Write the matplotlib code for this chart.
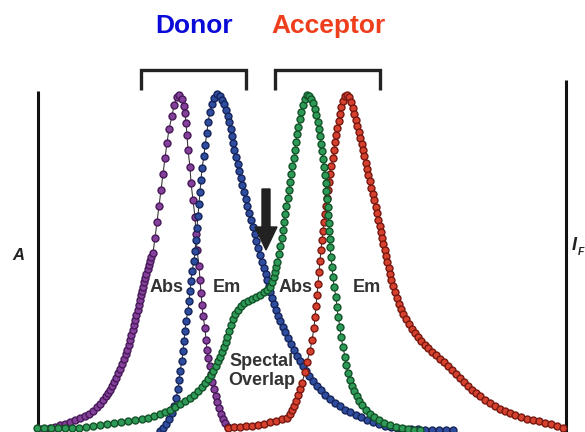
import numpy as np
import matplotlib
matplotlib.use("Agg")
import matplotlib.pyplot as plt

plt.rcParams['font.family'] = ['Liberation Sans', 'DejaVu Sans']

# curves: x position, y position (image rows, top = 0)
donor_abs_x = [40, 45, 50, 55, 60, 65, 70, 75, 80, 85, 89, 93, 97, 100, 103, 106, 108, 110, 112, 114,
               116, 118, 120, 122, 124, 126, 127, 129, 130, 131, 133, 134, 135, 136, 138, 139, 140, 141,
               142, 143, 144, 145, 146, 148, 149, 150, 151, 153, 155, 157, 159, 161, 163, 165, 167, 169,
               172, 174, 177, 179, 182, 184, 185, 186, 187, 188, 190, 191, 193, 195, 196, 197, 199, 200,
               201, 202, 203, 205, 206, 207, 208, 210, 211, 212, 214, 216, 217, 219, 221, 223, 225, 228]
donor_abs_y = [429, 429, 428, 427, 425, 424, 422, 420, 418, 416, 414, 411, 407, 404, 400, 396, 393, 390, 386, 382,
               378, 373, 369, 364, 359, 354, 350, 345, 340, 335, 330, 325, 320, 315, 310, 305, 300, 295,
               291, 287, 282, 278, 274, 269, 265, 261, 257, 253, 238, 222, 206, 190, 174, 158, 143, 129,
               116, 105, 97, 95, 99, 106, 113, 123, 135, 150, 167, 183, 200, 217, 234, 250, 266, 280,
               293, 305, 316, 328, 340, 350, 358, 366, 374, 382, 389, 396, 402, 408, 414, 419, 423, 427]

donor_em_x = [160, 163, 166, 169, 172, 174, 176, 178, 179, 180, 182, 183, 184, 185, 186, 188, 189, 190, 191, 192,
              194, 195, 196, 197, 198, 199, 200, 201, 202, 204, 205, 207, 208, 210, 212, 214, 217, 220, 222,
              224, 226, 228, 229, 231, 232, 233, 234, 236, 238, 239, 241, 242, 244, 246, 247, 249, 251, 253,
              255, 256, 258, 260, 262, 264, 266, 267, 269, 270, 272, 274, 276, 278, 280, 283, 285, 288, 291,
              294, 297, 300, 303, 306, 309, 313, 317, 321, 325, 330, 335, 340, 345, 350, 356, 361, 367, 373,
              379, 385, 391, 397, 404, 411, 418, 425, 432, 439, 446, 453]
donor_em_y = [431, 428, 424, 419, 413, 406, 398, 389, 380, 371, 361, 351, 341, 331, 321, 311, 301, 291, 281, 271,
              261, 251, 240, 228, 216, 204, 192, 180, 168, 156, 145, 133, 122, 112, 104, 98, 94, 96, 100,
              104, 110, 116, 122, 129, 136, 143, 150, 157, 164, 171, 178, 185, 192, 199, 206, 213, 220, 227,
              234, 241, 248, 255, 262, 268, 274, 280, 286, 292, 298, 304, 310, 316, 321, 327, 332, 338, 344,
              350, 356, 361, 366, 371, 376, 381, 386, 390, 395, 399, 403, 406, 410, 412, 415, 417, 420, 422,
              424, 426, 427, 428, 429, 429, 429, 430, 430, 430, 430, 430]

acc_abs_x = [37, 44, 51, 58, 65, 72, 79, 86, 93, 100, 107, 114, 121, 128, 135, 142, 148, 154, 160, 165, 170,
             175, 180, 185, 190, 194, 198, 202, 205, 208, 211, 213, 216, 218, 220, 222, 224, 226, 227, 229,
             231, 233, 235, 238, 241, 244, 248, 252, 256, 260, 264, 267, 270, 272, 274, 275, 276, 277, 279,
             280, 282, 283, 284, 285, 286, 288, 289, 290, 291, 292, 294, 295, 296, 297, 298, 300, 301, 303,
             305, 307, 309, 311, 313, 315, 316, 318, 319, 320, 321, 322, 323, 324, 325, 326, 326, 327, 328,
             328, 329, 329, 330, 330, 331, 332, 333, 334, 336, 337, 338, 340, 341, 343, 345, 346, 348, 350,
             352, 354, 357, 359, 362, 366, 370, 374, 379, 384, 390, 396, 402, 408, 414, 420]
acc_abs_y = [428, 428, 428, 428, 428, 428, 428, 427, 426, 425, 424, 423, 422, 421, 420, 419, 418, 416, 414, 412, 410,
             407, 404, 401, 398, 395, 391, 387, 383, 379, 375, 371, 366, 361, 357, 352, 347, 342, 337, 331,
             325, 319, 314, 310, 306, 303, 301, 299, 297, 295, 292, 290, 287, 282, 277, 272, 267, 262, 254,
             246, 238, 230, 222, 214, 206, 198, 190, 182, 174, 166, 158, 150, 142, 134, 127, 119, 112, 105,
             99, 95, 96, 99, 103, 109, 115, 122, 129, 136, 144, 151, 159, 167, 175, 183, 191, 199, 207,
             215, 223, 231, 239, 247, 257, 267, 277, 287, 297, 307, 317, 327, 337, 347, 357, 365, 373, 380,
             386, 391, 396, 401, 405, 410, 414, 417, 420, 423, 425, 427, 428, 429, 430, 430]

acc_em_x = [228, 234, 240, 246, 252, 258, 264, 270, 276, 282, 287, 290, 292, 294, 296, 298, 300, 302, 305, 307,
            310, 312, 314, 315, 316, 317, 318, 319, 320, 321, 322, 323, 324, 325, 326, 327, 328, 329, 330,
            331, 333, 334, 335, 336, 337, 339, 340, 341, 343, 345, 347, 349, 351, 353, 354, 356, 357, 359,
            360, 362, 363, 364, 366, 367, 368, 370, 371, 373, 374, 376, 377, 378, 380, 381, 382, 383, 385,
            386, 387, 389, 390, 391, 393, 395, 397, 399, 401, 403, 406, 409, 412, 415, 418, 421, 425, 428,
            432, 436, 440, 444, 448, 452, 456, 460, 464, 468, 472, 476, 480, 485, 490, 495, 500, 505, 510,
            515, 521, 527, 533, 539, 545, 551, 557, 563]
acc_em_y = [428, 427, 427, 426, 426, 425, 424, 422, 421, 419, 418, 414, 410, 406, 401, 395, 389, 383, 372, 362,
            351, 340, 328, 317, 306, 295, 284, 272, 261, 250, 240, 231, 222, 214, 206, 198, 190, 182, 174,
            166, 158, 150, 142, 135, 128, 121, 114, 107, 101, 96, 95, 97, 102, 108, 114, 120, 126, 132,
            138, 144, 150, 156, 163, 169, 175, 181, 188, 194, 200, 207, 213, 220, 226, 232, 238, 244, 250,
            256, 262, 268, 274, 280, 286, 292, 298, 304, 309, 314, 319, 324, 329, 333, 337, 341, 345, 348,
            352, 355, 359, 362, 366, 370, 374, 378, 382, 386, 390, 393, 396, 400, 403, 406, 409, 411, 413,
            415, 417, 419, 420, 421, 423, 424, 426, 428]

fig = plt.figure(figsize=(5.85, 4.32), dpi=100)
ax = fig.add_axes([0, 0, 1, 1])
ax.set_xlim(0, 585)
ax.set_ylim(432, 0)
ax.axis('off')

curves = [
    (donor_abs_x, donor_abs_y, '#84409a', '#471958'),
    (donor_em_x, donor_em_y, '#2f4d9e', '#15245a'),
    (acc_em_x, acc_em_y, '#d5412e', '#761810'),
    (acc_abs_x, acc_abs_y, '#2d9a58', '#135227'),
]
for xs, ys, face, edge in curves:
    ax.plot(xs, ys, color='#3a3a3a', lw=0.8, zorder=2)
    ax.plot(xs, ys, ls='none', marker='o', ms=5.0, mfc=face, mec=edge, mew=1.0, zorder=3)

# axis bars
ax.plot([38, 38], [91, 432], color='#111111', lw=2.2, solid_capstyle='butt')
ax.plot([566, 566], [80, 432], color='#111111', lw=2.2, solid_capstyle='butt')

# brackets
ax.plot([141, 141, 246, 246], [90, 70, 70, 90], color='#222222', lw=2.4,
        solid_joinstyle='miter', solid_capstyle='butt')
ax.plot([275, 275, 380, 380], [90, 70, 70, 90], color='#222222', lw=2.4,
        solid_joinstyle='miter', solid_capstyle='butt')

ax.arrow(266, 189, 0, 61, width=8, head_width=22, head_length=23,
         length_includes_head=True, color='#222222', zorder=5)

ax.text(194, 26, 'Donor', color='#0a0ad8', fontsize=19, fontweight='bold', ha='center', va='center')
ax.text(328, 26, 'Acceptor', color='#ee3e1c', fontsize=19, fontweight='bold', ha='center', va='center')

lab = dict(color='#333333', fontsize=13, fontweight='bold', ha='center', va='center', zorder=6)
ax.text(167, 288, 'Abs', **lab)
ax.text(227, 288, 'Em', **lab)
ax.text(296, 288, 'Abs', **lab)
ax.text(367, 288, 'Em', **lab)
ax.text(262, 371, 'Spectal\nOverlap', linespacing=1.15, **lab)

ax.text(18, 256, 'A', color='#222222', fontsize=12, fontweight='bold', fontstyle='italic',
        ha='center', va='center')
ax.text(572, 246, 'I', color='#222222', fontsize=13, fontweight='bold', fontstyle='italic',
        ha='left', va='center')
ax.text(577.5, 252, 'F', color='#222222', fontsize=7.5, fontweight='bold', fontstyle='italic',
        ha='left', va='center')

fig.savefig('out.png', dpi=100)
